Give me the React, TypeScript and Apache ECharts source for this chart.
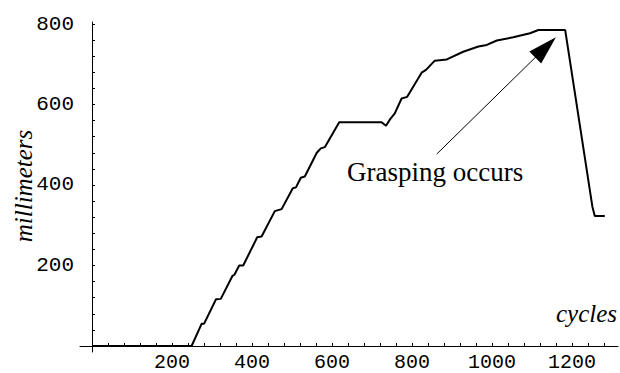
import React, { useEffect, useRef } from "react";
import * as echarts from "echarts";

const cycles = [
  0, 249, 274, 280, 310, 322, 351, 356, 368, 378, 413, 424, 457, 474, 502, 510,
  522, 532, 562, 572, 582, 618, 724, 735, 745, 757, 774, 788, 824, 835, 857,
  887, 928, 966, 987, 1012, 1053, 1095, 1116, 1183, 1251, 1257, 1282,
];
const millimeters = [
  0, 0, 55, 55, 116, 117, 174, 177, 200, 200, 270, 272, 335, 340, 392, 394,
  418, 421, 480, 491, 494, 556, 556, 547, 563, 578, 615, 619, 679, 686, 709,
  712, 731, 744, 748, 759, 767, 777, 785, 785, 346, 323, 323,
];

const xTickLabels = [200, 400, 600, 800, 1000, 1200];
const yTickLabels = [200, 400, 600, 800];
const xMinorTicks = Array.from({ length: 32 }, (_, i) => (i + 1) * 40);
const yMinorTicks = Array.from({ length: 20 }, (_, i) => (i + 1) * 40);

const arrowFrom = [862, 477];
const arrowTo = [1134, 742];
const annotation = "Grasping occurs";

export default function App() {
  const ref = useRef<HTMLDivElement>(null);
  useEffect(() => {
    if (!ref.current) return;
    const chart = echarts.init(ref.current, null, { renderer: "svg" });
    const mono = '"Liberation Mono", "Courier New", monospace';
    const serif = '"Liberation Serif", "Times New Roman", serif';
    chart.setOption({
      animation: false,
      backgroundColor: "#fff",
      grid: { left: 80, right: 2, top: 22, bottom: 21, containLabel: false, outerBoundsMode: "none" },
      xAxis: {
        type: "value",
        min: -30,
        max: 1315,
        splitLine: { show: false },
        axisLine: { onZero: true, lineStyle: { color: "#000", width: 1 } },
        axisTick: { show: true, inside: true, length: 3, customValues: xMinorTicks, lineStyle: { color: "#000" } },
        axisLabel: {
          customValues: xTickLabels,
          formatter: (v: number) => String(v),
          color: "#000",
          fontFamily: mono,
          fontSize: 20,
          lineHeight: 20,
          margin: 0,
        },
      },
      yAxis: {
        type: "value",
        min: -15,
        max: 805,
        splitLine: { show: false },
        axisLine: { onZero: true, lineStyle: { color: "#000", width: 1 } },
        axisTick: { show: true, inside: true, length: 3, customValues: yMinorTicks, lineStyle: { color: "#000" } },
        axisLabel: {
          customValues: yTickLabels,
          formatter: (v: number) => String(v),
          color: "#000",
          fontFamily: mono,
          fontSize: 21,
          margin: 6,
        },
      },
      series: [
        {
          type: "line",
          data: cycles.map((x, i) => [x, millimeters[i]]),
          showSymbol: false,
          symbol: "none",
          lineStyle: { color: "#000", width: 2 },
          silent: true,
          markLine: {
            silent: true,
            symbol: ["none", "triangle"],
            symbolSize: [17, 29],
            label: { show: false },
            lineStyle: { color: "#000", width: 1, type: "solid" },
            itemStyle: { color: "#000" },
            data: [[{ coord: arrowFrom }, { coord: arrowTo }]],
          },
        },
      ],
      graphic: [
        {
          type: "text",
          x: 347,
          y: 172,
          style: {
            text: annotation,
            font: `27px ${serif}`,
            fill: "#000",
            textAlign: "left",
            align: "left",
            textVerticalAlign: "middle",
            verticalAlign: "middle",
          },
        },
        {
          type: "text",
          x: 617,
          y: 313,
          style: {
            text: "cycles",
            font: `italic 25px ${serif}`,
            fill: "#000",
            textAlign: "right",
            align: "right",
            textVerticalAlign: "middle",
            verticalAlign: "middle",
          },
        },
        {
          type: "text",
          x: 23,
          y: 186,
          rotation: Math.PI / 2,
          style: {
            text: "millimeters",
            font: `italic 25px ${serif}`,
            fill: "#000",
            textAlign: "center",
            align: "center",
            textVerticalAlign: "middle",
            verticalAlign: "middle",
          },
        },
      ],
    });
    return () => chart.dispose();
  }, []);
  return (
    <div
      ref={ref}
      style={{ position: "fixed", left: 0, top: 0, width: 620, height: 373, background: "#fff" }}
    />
  );
}
